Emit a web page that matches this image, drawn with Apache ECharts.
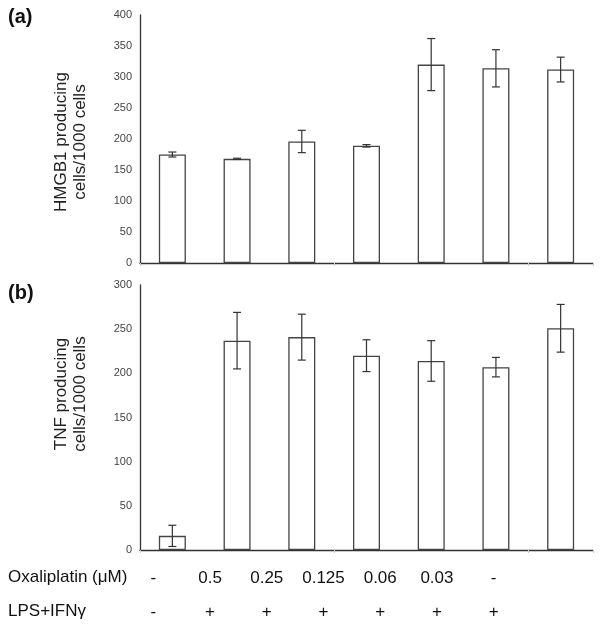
<!DOCTYPE html>
<html>
<head>
<meta charset="utf-8">
<script src="https://cdn.jsdelivr.net/npm/echarts@6/dist/echarts.min.js"></script>
<style>
html,body{margin:0;padding:0;background:#fff;}
#chart{width:600px;height:629px;}
</style>
</head>
<body>
<div id="chart"></div>
<script>
// Data
var categories = ['Medium', 'Oxa 0.5 + LPS/IFN', 'Oxa 0.25 + LPS/IFN', 'Oxa 0.125 + LPS/IFN', 'Oxa 0.06 + LPS/IFN', 'Oxa 0.03 + LPS/IFN', 'LPS/IFN'];
var hmgb1Means = [175, 168, 196, 189, 320, 314, 312];
var hmgb1Errors = [4, 1, 18, 2, 42, 30, 20];
var tnfMeans = [16, 237, 241, 220, 214, 207, 251];
var tnfErrors = [12, 32, 26, 18, 23, 11, 27];
var oxaliplatinLabels = ['-', '0.5', '0.25', '0.125', '0.06', '0.03', '-'];
var lpsLabels = ['-', '+', '+', '+', '+', '+', '+'];
var hmgb1Ticks = {min: 0, max: 400, interval: 50};
var tnfTicks = {min: 0, max: 300, interval: 50};

function errData(means, errs) {
  return means.map(function (m, i) { return [i, m - errs[i], m + errs[i]]; });
}

function renderErr(params, api) {
  var x = api.value(0);
  var lo = api.coord([x, api.value(1)]);
  var hi = api.coord([x, api.value(2)]);
  var half = 4;
  var st = {stroke: '#333', lineWidth: 1.2};
  return {
    type: 'group',
    children: [
      {type: 'line', shape: {x1: lo[0], y1: lo[1], x2: hi[0], y2: hi[1]}, style: st},
      {type: 'line', shape: {x1: lo[0] - half, y1: lo[1], x2: lo[0] + half, y2: lo[1]}, style: st},
      {type: 'line', shape: {x1: hi[0] - half, y1: hi[1], x2: hi[0] + half, y2: hi[1]}, style: st}
    ]
  };
}

var FONT = '"Liberation Sans", Arial, sans-serif';

function xAxisFor(gi) {
  return {
    type: 'category', gridIndex: gi, data: categories,
    axisLine: {lineStyle: {color: '#333', width: 1.3}},
    axisTick: {show: true, length: 3, lineStyle: {color: '#ccc'}},
    axisLabel: {show: false}
  };
}
function yAxisFor(gi, t) {
  return {
    type: 'value', gridIndex: gi, min: t.min, max: t.max, interval: t.interval,
    splitLine: {show: false},
    axisLine: {show: true, lineStyle: {color: '#333', width: 1.3}},
    axisTick: {show: false},
    axisLabel: {color: '#444', fontSize: 11, fontFamily: FONT, margin: 8}
  };
}

var chart = echarts.init(document.getElementById('chart'), null, {renderer: 'canvas'});
var option = {
  animation: false,
  backgroundColor: '#fff',
  grid: [
    {left: 140, right: 7, top: 15, height: 248},
    {left: 140, right: 7, top: 285, height: 265},
    {left: 125, width: 397, top: 559, height: 1}
  ],
  xAxis: [
    xAxisFor(0),
    xAxisFor(1),
    {type: 'category', gridIndex: 2, data: oxaliplatinLabels, position: 'bottom',
     axisLine: {show: false}, axisTick: {show: false},
     axisLabel: {color: '#111', fontSize: 17, fontFamily: FONT, margin: 18, verticalAlign: 'middle', interval: 0}},
    {type: 'category', gridIndex: 2, data: lpsLabels, position: 'bottom', offset: 34,
     axisLine: {show: false}, axisTick: {show: false},
     axisLabel: {color: '#111', fontSize: 17, fontFamily: FONT, margin: 18, verticalAlign: 'middle', interval: 0}}
  ],
  yAxis: [
    yAxisFor(0, hmgb1Ticks),
    yAxisFor(1, tnfTicks),
    {type: 'value', gridIndex: 2, show: false}
  ],
  series: [
    {type: 'bar', xAxisIndex: 0, yAxisIndex: 0, data: hmgb1Means, barWidth: 27,
     itemStyle: {color: '#fff', borderColor: '#444', borderWidth: 1.3}},
    {type: 'custom', xAxisIndex: 0, yAxisIndex: 0, data: errData(hmgb1Means, hmgb1Errors),
     renderItem: renderErr, z: 3},
    {type: 'bar', xAxisIndex: 1, yAxisIndex: 1, data: tnfMeans, barWidth: 27,
     itemStyle: {color: '#fff', borderColor: '#444', borderWidth: 1.3}},
    {type: 'custom', xAxisIndex: 1, yAxisIndex: 1, data: errData(tnfMeans, tnfErrors),
     renderItem: renderErr, z: 3}
  ],
  graphic: [
    {type: 'text', left: 8, top: 7, style: {text: '(a)', font: 'bold 20px ' + FONT, fill: '#111'}},
    {type: 'text', left: 8, top: 283, style: {text: '(b)', font: 'bold 20px ' + FONT, fill: '#111'}},
    {type: 'text', x: 71, y: 142, rotation: Math.PI / 2,
     style: {text: 'HMGB1 producing\ncells/1000 cells', font: '17px ' + FONT, fill: '#222',
             align: 'center', verticalAlign: 'middle', lineHeight: 19}},
    {type: 'text', x: 71, y: 394, rotation: Math.PI / 2,
     style: {text: 'TNF producing\ncells/1000 cells', font: '17px ' + FONT, fill: '#222',
             align: 'center', verticalAlign: 'middle', lineHeight: 19}},
    {type: 'text', x: 8, y: 577,
     style: {text: 'Oxaliplatin (μM)', font: '17px ' + FONT, fill: '#111', verticalAlign: 'middle'}},
    {type: 'text', x: 8, y: 611,
     style: {text: 'LPS+IFNγ', font: '17px ' + FONT, fill: '#111', verticalAlign: 'middle'}}
  ]
};
chart.setOption(option);
</script>
</body>
</html>
